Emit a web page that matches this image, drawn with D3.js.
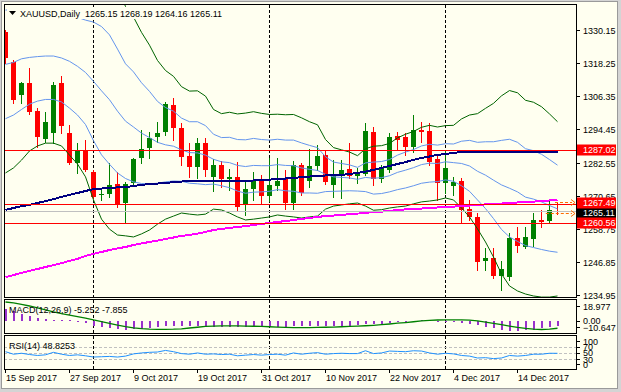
<!DOCTYPE html>
<html><head><meta charset="utf-8">
<script src="https://cdn.jsdelivr.net/npm/d3@7"></script>
<style>body{margin:0;background:#d8d8d8;}svg{display:block;}text{font-family:"Liberation Sans",Arial,sans-serif;font-size:9px;}</style>
</head><body>
<svg id="c" width="621" height="392"></svg>
<script>
// ---------------- DATA ----------------
const dates = ["2017-09-15","2017-09-18","2017-09-19","2017-09-20","2017-09-21","2017-09-22","2017-09-25","2017-09-26","2017-09-27","2017-09-28","2017-09-29",
"2017-10-02","2017-10-03","2017-10-04","2017-10-05","2017-10-06","2017-10-09","2017-10-10","2017-10-11","2017-10-12","2017-10-13","2017-10-16","2017-10-17","2017-10-18","2017-10-19","2017-10-20","2017-10-23","2017-10-24","2017-10-25","2017-10-26","2017-10-27","2017-10-30","2017-10-31",
"2017-11-01","2017-11-02","2017-11-03","2017-11-06","2017-11-07","2017-11-08","2017-11-09","2017-11-10","2017-11-13","2017-11-14","2017-11-15","2017-11-16","2017-11-17","2017-11-20","2017-11-21","2017-11-22","2017-11-23","2017-11-24","2017-11-27","2017-11-28","2017-11-29","2017-11-30",
"2017-12-01","2017-12-04","2017-12-05","2017-12-06","2017-12-07","2017-12-08","2017-12-11","2017-12-12","2017-12-13","2017-12-14","2017-12-15","2017-12-18","2017-12-19","2017-12-20","2017-12-21"];
const open = [1329.4,1318.7,1306.8,1311.1,1301.1,1291.0,1293.2,1311.1,1293.2,1282.4,1287.0,1279.1,1270.9,1271.2,1274.8,1268.0,1275.2,1284.2,1287.8,1291.7,1293.5,1303.2,1294.9,1284.9,1280.9,1289.6,1277.3,1281.7,1276.6,1277.3,1267.6,1273.0,1276.3,1270.5,1274.1,1276.6,1268.0,1281.7,1275.9,1281.3,1285.3,1274.5,1278.1,1280.2,1277.7,1278.4,1293.5,1276.6,1279.9,1292.1,1291.7,1288.1,1294.2,1293.9,1283.8,1275.2,1274.1,1275.9,1265.9,1263.0,1247.2,1248.2,1241.8,1241.4,1255.4,1252.2,1255.1,1261.9,1261.5,1265.15];
const high = [1330.2,1319.4,1311.5,1316.5,1302.1,1300.7,1311.5,1313.6,1296.0,1289.6,1290.6,1279.9,1272.7,1282.4,1279.1,1275.6,1284.2,1294.2,1293.5,1297.1,1304.3,1305.7,1296.7,1289.6,1291.4,1291.4,1283.8,1283.1,1280.2,1282.7,1276.3,1279.1,1278.1,1284.2,1284.2,1279.9,1283.1,1282.4,1287.4,1288.8,1287.0,1283.5,1283.5,1289.6,1280.6,1296.7,1295.3,1281.7,1293.2,1293.5,1293.2,1299.6,1297.1,1296.7,1285.3,1287.0,1277.3,1277.0,1269.1,1264.4,1251.8,1251.8,1247.2,1257.2,1259.4,1259.4,1264.4,1265.5,1269.1,1268.19];
const low = [1318.3,1303.9,1303.9,1300.0,1288.1,1289.9,1289.6,1293.2,1282.0,1278.8,1279.5,1269.8,1269.1,1270.2,1266.6,1260.8,1274.1,1282.4,1284.2,1289.9,1292.4,1290.6,1281.7,1277.3,1277.0,1277.7,1272.3,1273.8,1272.7,1265.5,1263.7,1269.1,1267.6,1268.7,1272.7,1265.9,1265.9,1270.9,1273.8,1279.9,1274.8,1270.2,1269.8,1277.0,1275.2,1278.1,1274.5,1275.6,1279.1,1287.0,1285.3,1286.3,1289.9,1281.7,1269.1,1271.6,1270.9,1260.8,1261.9,1243.9,1243.9,1241.1,1236.8,1240.3,1250.4,1251.8,1252.6,1259.4,1261.2,1264.16];
const close = [1320.1,1305.0,1311.1,1300.7,1291.7,1297.1,1310.4,1295.7,1282.4,1287.0,1279.9,1270.2,1271.4,1274.5,1267.6,1274.8,1283.8,1287.4,1291.4,1293.2,1303.6,1294.9,1284.5,1280.9,1289.6,1279.9,1281.7,1276.6,1277.3,1266.6,1273.0,1276.3,1270.5,1274.5,1275.9,1268.0,1281.7,1271.6,1281.3,1284.9,1275.6,1278.1,1279.9,1277.7,1278.4,1293.9,1276.6,1280.6,1291.7,1290.6,1288.1,1294.2,1293.5,1282.7,1275.2,1280.6,1275.6,1265.5,1263.0,1246.8,1248.2,1241.8,1244.3,1255.4,1252.6,1255.8,1261.9,1261.2,1265.5,1265.11];

const bbMid = [1317.8,1318.5,1319.8,1320.3,1320.6,1320.8,1320.8,1320.1,1318.9,1317.1,1314.9,1311.7,1308.3,1305.1,1301.0,1297.4,1295.3,1293.1,1291.5,1289.8,1288.9,1288.4,1287.1,1286.1,1286.0,1285.2,1283.7,1282.8,1282.5,1281.5,1281.1,1281.5,1281.4,1281.4,1281.8,1281.5,1281.4,1280.6,1280.1,1279.7,1278.3,1277.4,1277.2,1277.0,1276.5,1277.2,1276.9,1277.1,1277.8,1279.0,1279.8,1280.7,1281.8,1282.3,1282.2,1282.8,1282.5,1282.2,1281.3,1279.4,1278.0,1276.2,1274.5,1273.3,1272.0,1270.1,1269.4,1268.4,1267.1,1265.9];
const bbUp1 = [1337.3,1337.5,1338.0,1337.1,1336.7,1336.5,1336.5,1335.9,1335.8,1334.7,1333.7,1333.0,1331.4,1328.4,1323.3,1318.0,1315.1,1311.2,1308.1,1304.5,1302.3,1301.0,1298.5,1297.2,1297.2,1295.8,1292.7,1291.5,1291.6,1290.8,1290.7,1291.2,1290.8,1290.6,1290.9,1290.6,1290.6,1289.6,1288.7,1287.9,1284.6,1282.7,1282.2,1281.7,1280.8,1282.4,1282.7,1282.9,1283.6,1285.2,1286.3,1287.2,1288.5,1289.1,1288.8,1289.3,1289.2,1290.2,1290.5,1289.8,1290.0,1290.0,1290.5,1290.9,1289.8,1287.5,1286.8,1285.5,1283.6,1281.6];
const bbLow1 = [1298.3,1299.6,1301.6,1303.5,1304.6,1305.2,1305.2,1304.3,1302.1,1299.6,1296.2,1290.4,1285.3,1281.9,1278.8,1276.8,1275.6,1275.0,1274.9,1275.1,1275.6,1275.9,1275.8,1275.1,1274.9,1274.6,1274.8,1274.2,1273.5,1272.3,1271.5,1271.9,1272.0,1272.2,1272.8,1272.4,1272.2,1271.6,1271.6,1271.5,1272.1,1272.2,1272.3,1272.4,1272.3,1272.1,1271.2,1271.4,1272.0,1272.8,1273.4,1274.2,1275.1,1275.5,1275.7,1276.3,1275.8,1274.2,1272.2,1269.1,1266.0,1262.4,1258.5,1255.8,1254.2,1252.7,1252.0,1251.3,1250.7,1250.3];
const bbUp2 = [1356.8,1356.4,1356.2,1353.9,1352.7,1352.1,1352.1,1351.7,1352.6,1352.2,1352.4,1354.3,1354.4,1351.6,1345.5,1338.6,1334.8,1329.3,1324.7,1319.2,1315.6,1313.5,1309.8,1308.2,1308.3,1306.4,1301.6,1300.1,1300.6,1300.0,1300.3,1300.8,1300.2,1299.8,1299.9,1299.7,1299.8,1298.6,1297.2,1296.1,1290.8,1287.9,1287.1,1286.3,1285.0,1287.5,1288.4,1288.6,1289.4,1291.4,1292.7,1293.7,1295.2,1295.9,1295.3,1295.8,1295.9,1298.2,1299.6,1300.1,1302.0,1303.8,1306.5,1308.4,1307.6,1304.9,1304.2,1302.6,1300.0,1297.2];
const bbLow2 = [1278.8,1280.6,1283.4,1286.7,1288.5,1289.5,1289.5,1288.5,1285.2,1282.0,1277.4,1269.1,1262.2,1258.6,1256.5,1256.2,1255.8,1256.9,1258.3,1260.4,1262.2,1263.3,1264.4,1264.0,1263.7,1264.0,1265.8,1265.5,1264.4,1263.0,1261.9,1262.2,1262.6,1263.0,1263.7,1263.3,1263.0,1262.6,1263.0,1263.3,1265.8,1266.9,1267.3,1267.7,1268.0,1266.9,1265.4,1265.6,1266.2,1266.6,1266.9,1267.7,1268.4,1268.7,1269.1,1269.8,1269.1,1266.2,1263.0,1258.7,1254.0,1248.6,1242.5,1238.2,1236.4,1235.3,1234.6,1234.2,1234.2,1234.6];
const ma100 = [1265.5,1266.2,1266.9,1267.3,1268.0,1268.7,1269.4,1270.2,1270.9,1271.6,1272.3,1273.0,1273.2,1273.4,1273.6,1273.7,1274.1,1274.5,1274.8,1275.0,1275.2,1275.5,1275.7,1275.9,1275.9,1275.9,1275.9,1275.9,1275.9,1275.9,1275.9,1276.1,1276.3,1276.4,1276.6,1276.8,1277.0,1277.3,1277.5,1277.7,1277.9,1278.1,1278.1,1278.4,1278.8,1279.3,1279.9,1280.6,1281.3,1282.0,1282.7,1283.5,1284.2,1284.7,1285.3,1285.6,1286.0,1286.3,1286.5,1286.5,1286.5,1286.5,1286.5,1286.5,1286.5,1286.5,1286.2,1286.2,1286.2,1286.2];
const ma200 = [1241.4,1242.1,1242.9,1243.6,1244.3,1245.0,1245.7,1246.4,1247.2,1247.9,1249.0,1249.7,1250.4,1251.1,1251.7,1252.2,1252.9,1253.5,1254.0,1254.5,1255.1,1255.6,1256.2,1256.5,1257.0,1257.6,1258.3,1258.7,1259.0,1259.4,1259.7,1260.1,1260.5,1260.8,1261.2,1261.5,1261.9,1262.3,1262.6,1263.0,1263.3,1263.5,1263.7,1264.0,1264.2,1264.4,1264.8,1264.9,1265.1,1265.5,1265.7,1265.8,1266.0,1266.2,1266.4,1266.6,1266.7,1266.9,1267.1,1267.3,1267.5,1267.6,1267.8,1268.0,1268.2,1268.4,1268.5,1268.7,1268.9,1269.1];
const macdMain = [12.2,9.8,6.8,4.5,2.5,1.4,0.8,0.4,0.15,-0.3,-2.5,-5.5,-7.0,-8.0,-8.9,-9.3,-9.0,-8.5,-7.6,-7.0,-6.0,-5.5,-5.8,-6.0,-5.8,-6.0,-6.1,-6.2,-6.3,-6.8,-6.9,-6.8,-6.8,-6.6,-6.4,-6.5,-6.0,-6.0,-5.6,-5.2,-5.4,-5.4,-5.2,-5.1,-5.0,-3.8,-3.6,-3.3,-2.4,-1.6,-1.0,-0.2,0.4,0.3,-0.3,-0.5,-1.0,-2.2,-3.3,-5.0,-6.6,-8.0,-10.1,-10.647,-10.2,-9.9,-9.2,-8.0,-6.8,-5.252];
const macdSignal = [18.977,18.0,16.6,14.9,13.0,11.0,9.0,7.2,5.6,4.1,2.6,0.6,-1.0,-2.8,-4.6,-6.2,-7.5,-8.3,-8.8,-8.9,-8.9,-8.8,-8.4,-7.6,-6.8,-6.0,-5.6,-5.5,-5.5,-5.5,-5.6,-5.8,-6.0,-6.3,-6.6,-6.9,-7.1,-7.2,-7.1,-7.0,-6.8,-6.6,-6.3,-6.0,-5.7,-5.3,-4.8,-4.2,-3.5,-2.7,-2.0,-1.2,-0.4,0.2,0.6,0.7,0.7,0.7,0.4,-0.4,-1.5,-2.8,-4.2,-5.6,-6.9,-8.0,-8.8,-9.1,-8.7,-7.855];
const rsi = [54,46,49,45,42,44,52,46,42,44,41,37,38,39,37,40,47,50,52,53,58,54,48,46,50,46,47,45,46,41,43,45,43,45,46,43,50,46,49,51,46,48,49,48,48,57,48,50,56,55,54,57,56,50,46,49,47,42,40,34,35,32,34,42,40,42,46,46,49,48.8253];

const priceTicks = [1330.15,1318.25,1306.35,1294.45,1282.55,1270.65,1258.75,1246.85,1234.95];
const priceLevels = [1287.02,1267.49,1260.56];   // red horizontal lines
const bidPrice = 1265.11;
const barHiLo = [1268.19,1264.16];               // orange dashed markers
const macdTicks = [18.977,0.00,-10.647];
const macdDomain = [-10.647,18.977];
const rsiLevels = [70,50,30];
const rsiTicks = [100,70,50,30,0];
const header = "XAUUSD,Daily  1265.15 1268.19 1264.16 1265.11";
const macdTitle = "MACD(12,26,9) -5.252 -7.855";
const rsiTitle = "RSI(14) 48.8253";

// ---------------- DRAW ----------------
const svg = d3.select("#c");
const W=621,H=392;
const P = {l:4, r:576, top:4, bot:297};
const M = {top:299, bot:333};
const R = {top:335, bot:369};
const ivory="#fffff0";

svg.append("rect").attr("x",0).attr("y",0).attr("width",W).attr("height",H).attr("fill","#d4d4d4");
svg.append("rect").attr("x",1.5).attr("y",1.5).attr("width",616).attr("height",387).attr("fill",ivory).attr("stroke","#9a9a9a");

const parse = d3.timeParse("%Y-%m-%d");
const fmt = d3.timeFormat("%-d %b %Y");
const dd = dates.map(parse);
const N = dates.length;

const x = d3.scaleLinear().domain([0,N-1]).range([5,5+8*(N-1)]);
const y = d3.scaleLinear().domain([1234.95,1330.15]).range([295,30]);
const ym = d3.scaleLinear().domain(macdDomain).range([331,302]);
const yr = d3.scaleLinear().domain([0,100]).range([368.7,337.2]);
const cx = i => Math.round(x(i));

const defs = svg.append("defs");
defs.append("clipPath").attr("id","cm").append("rect").attr("x",P.l+1).attr("y",P.top+1).attr("width",P.r-P.l-1).attr("height",P.bot-P.top-1);
defs.append("clipPath").attr("id","cmacd").append("rect").attr("x",P.l+1).attr("y",M.top+1).attr("width",P.r-P.l-1).attr("height",M.bot-M.top-1);
defs.append("clipPath").attr("id","crsi").append("rect").attr("x",P.l+1).attr("y",R.top+1).attr("width",P.r-P.l-1).attr("height",R.bot-R.top-1);

// period separators (month starts)
const sepIdx = d3.range(1,N).filter(i=>dd[i].getMonth()!==dd[i-1].getMonth());
[[P.top,P.bot],[M.top,M.bot],[R.top,R.bot]].forEach(([a,b])=>{
  sepIdx.forEach(i=>{
    svg.append("line").attr("x1",cx(i)+0.5).attr("x2",cx(i)+0.5).attr("y1",a+1).attr("y2",b)
      .attr("stroke","#000").attr("stroke-dasharray","3,2");
  });
});

// main chart
const gm = svg.append("g").attr("clip-path","url(#cm)");
d3.range(N).forEach(i=>{
  const up = close[i] >= open[i];
  const col = up ? "#008000" : "#ff0000";
  const c = cx(i);
  gm.append("line").attr("x1",c+0.5).attr("x2",c+0.5).attr("y1",Math.round(y(high[i]))).attr("y2",Math.round(y(low[i]))+1)
    .attr("stroke",col).attr("shape-rendering","crispEdges");
  const t = Math.round(y(Math.max(open[i],close[i]))), b = Math.round(y(Math.min(open[i],close[i])));
  gm.append("rect").attr("x",c-2).attr("y",t).attr("width",5).attr("height",Math.max(1,b-t)).attr("fill",col);
});
const line = (scale)=>d3.line().x((d,i)=>cx(i)+0.5).y(d=>scale(d));
const series = [
  [bbUp2,"#006400",1,"auto"],[bbLow2,"#006400",1,"auto"],
  [bbUp1,"#6495ed",1,"auto"],[bbLow1,"#6495ed",1,"auto"],[bbMid,"#6495ed",1,"auto"],
  [ma100,"#000080",2,"crispEdges"],[ma200,"#ff00ff",2,"crispEdges"]
];
series.forEach(([d,col,w,sr])=>{
  gm.append("path").attr("d",line(y)(d)).attr("fill","none").attr("stroke",col).attr("stroke-width",w).attr("shape-rendering",sr);
});
// horizontal levels
gm.append("line").attr("x1",P.l).attr("x2",P.r).attr("y1",Math.floor(y(bidPrice))+0.5).attr("y2",Math.floor(y(bidPrice))+0.5).attr("stroke","#c0c0c0");
priceLevels.forEach(v=>{
  gm.append("line").attr("x1",P.l).attr("x2",P.r).attr("y1",Math.floor(y(v))+0.5).attr("y2",Math.floor(y(v))+0.5).attr("stroke","#ff0000");
});
// orange dashed markers of the last bar's high/low
const hlStart=[N-2+0.75, N-3+0.6];
barHiLo.forEach((v,j)=>{
  const yy=Math.floor(y(v))+0.5, x0=x(hlStart[j]);
  gm.append("line").attr("x1",x0).attr("x2",P.r-4).attr("y1",yy).attr("y2",yy).attr("stroke","#ff6a00").attr("stroke-dasharray","3,2");
  gm.append("path").attr("d",`M${P.r-5},${yy-3}L${P.r-1},${yy}L${P.r-5},${yy+3}`).attr("fill","none").attr("stroke","#ff6a00");
});

// header
svg.append("rect").attr("x",7).attr("y",7).attr("width",225).attr("height",12).attr("fill",ivory);
svg.append("path").attr("d","M9,11L16,11L12.5,15Z").attr("fill","#000");
svg.append("text").attr("x",20).attr("y",16.5).attr("fill","#000").text(header).style("white-space","pre");

// panel borders
[[P.top,P.bot],[M.top,M.bot],[R.top,R.bot]].forEach(([a,b])=>{
  svg.append("rect").attr("x",P.l+0.5).attr("y",a+0.5).attr("width",P.r-P.l).attr("height",b-a).attr("fill","none").attr("stroke","#000");
});

// price axis
priceTicks.forEach(v=>{
  const yy=Math.round(y(v))+0.5;
  svg.append("line").attr("x1",P.r).attr("x2",P.r+4).attr("y1",yy).attr("y2",yy).attr("stroke","#000");
  svg.append("text").attr("x",583).attr("y",yy+3.5).text(d3.format(".2f")(v));
});
function box(v,bg,shift){
  const yy=Math.round(y(v))+shift;
  svg.append("rect").attr("x",577).attr("y",yy-5.5).attr("width",39).attr("height",11).attr("fill",bg);
  svg.append("text").attr("x",583).attr("y",yy+3.2).attr("fill","#fff").text(d3.format(".2f")(v));
}
box(priceLevels[0],"#ff0000",0);
box(bidPrice,"#000",1.5);
box(priceLevels[1],"#ff0000",-1);
box(priceLevels[2],"#ff0000",-1);

// MACD panel
const gmacd = svg.append("g").attr("clip-path","url(#cmacd)");
macdMain.forEach((v,i)=>{
  const a=Math.round(ym(0)), b=Math.round(ym(v));
  gmacd.append("rect").attr("x",cx(i)).attr("y",Math.min(a,b)).attr("width",2).attr("height",Math.max(1,Math.abs(b-a))).attr("fill","#9932cc");
});
gmacd.append("path").attr("d",line(ym)(macdSignal)).attr("fill","none").attr("stroke","#008000").attr("stroke-width",1.3);
svg.append("text").attr("x",9).attr("y",312.5).text(macdTitle);
macdTicks.forEach(v=>{
  const yy=Math.max(M.top+7,Math.min(M.bot-6,ym(v)));
  svg.append("line").attr("x1",P.r).attr("x2",P.r+4).attr("y1",Math.round(yy)+0.5).attr("y2",Math.round(yy)+0.5).attr("stroke","#000");
  svg.append("text").attr("x",583).attr("y",yy+3.5).text(v===0?"0.00":d3.format(".3f")(v));
});

// RSI panel
const grsi = svg.append("g").attr("clip-path","url(#crsi)");
rsiLevels.forEach(v=>{
  grsi.append("line").attr("x1",P.l).attr("x2",P.r).attr("y1",Math.round(yr(v))+0.5).attr("y2",Math.round(yr(v))+0.5).attr("stroke","#c0c0c0").attr("stroke-dasharray","3,2");
});
grsi.append("path").attr("d",line(yr)(rsi)).attr("fill","none").attr("stroke","#1e90ff");
svg.append("text").attr("x",9).attr("y",348.5).text(rsiTitle);
rsiTicks.forEach(v=>{
  const yy=Math.max(R.top+6,Math.min(R.bot-5,yr(v)));
  svg.append("line").attr("x1",P.r).attr("x2",P.r+4).attr("y1",Math.round(yy)+0.5).attr("y2",Math.round(yy)+0.5).attr("stroke","#000");
  svg.append("text").attr("x",583).attr("y",yy+3.5).text(v);
});

// date axis
d3.range(0,N,8).forEach(i=>{
  svg.append("line").attr("x1",cx(i)+0.5).attr("x2",cx(i)+0.5).attr("y1",R.bot).attr("y2",R.bot+4).attr("stroke","#000");
  svg.append("text").attr("x",cx(i)+1).attr("y",381).text(fmt(dd[i]));
});
</script>
</body></html>
